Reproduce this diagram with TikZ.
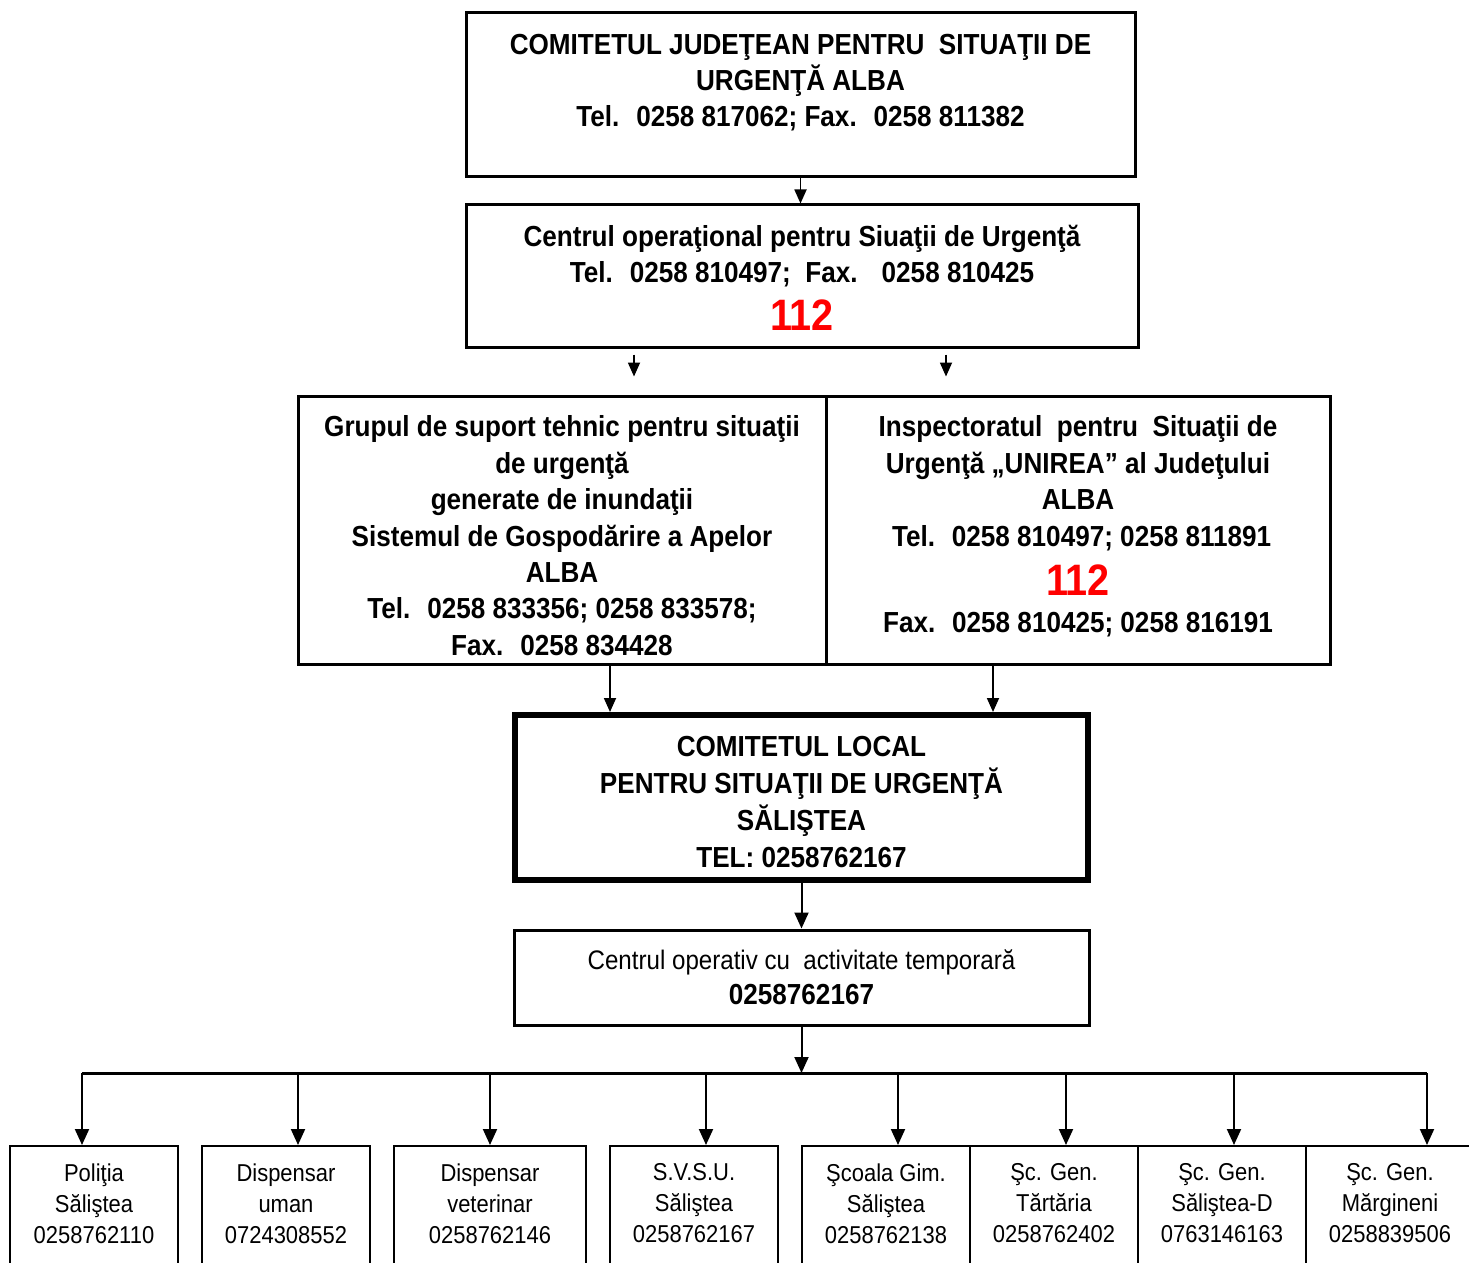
\documentclass[tikz,border=0pt]{standalone}
\usepackage{fontspec}
\setmainfont{Liberation Sans}[FakeStretch=0.9]
\usetikzlibrary{arrows.meta}

\tikzset{
  box/.style={draw, line width=1.5pt, inner sep=0pt},
  unit/.style={draw, line width=1pt, inner sep=0pt, minimum width=84pt, minimum height=77pt},
  txt/.style={anchor=north, align=center, inner sep=0pt, font=\bfseries\fontsize{14.5}{18.2}\selectfont},
  small/.style={anchor=north, align=center, inner sep=0pt, font=\fontsize{12.2}{15.5}\selectfont},
  arr/.style={line width=0.9pt, -{Triangle[length=7pt,width=6pt]}},
  barr/.style={line width=1pt, -{Triangle[length=8pt,width=7pt]}},
}
\newcommand{\urgnr}[1]{{\fontsize{22}{22}\selectfont\color{red}#1}}

\begin{document}
\begin{tikzpicture}[x=0.5pt, y=-0.5pt]
\useasboundingbox (0,0) rectangle (1469,1263);
\clip (0,0) rectangle (1469,1263);

% judet
\node[box, minimum width=334.5pt, minimum height=82pt, label={[txt, yshift=-11pt]90:{COMITETUL JUDEŢEAN PENTRU~ SITUAŢII DE\\URGENŢĂ ALBA\\Tel.~ 0258 817062; Fax.~ 0258 811382}}] (cjsu) at (800.5,95) {};
\node[box, minimum width=336pt, minimum height=71pt, label={[txt, yshift=-10.5pt]90:{Centrul operaţional pentru Siuaţii de Urgenţă\\Tel.~ 0258 810497;~ Fax.~~ 0258 810425\\[5.5pt]\urgnr{112}}}] (cosu) at (802,276) {};
\node[box, minimum width=264pt, minimum height=134pt, label={[txt, yshift=-10.5pt]90:{Grupul de suport tehnic pentru situaţii\\de urgenţă\\generate de inundaţii\\Sistemul de Gospodărire a Apelor\\ALBA\\Tel.~ 0258 833356; 0258 833578;\\Fax.~ 0258 834428}}] (gst) at (562,530) {};
\node[box, minimum width=252pt, minimum height=134pt, label={[txt, yshift=-10.5pt]90:{Inspectoratul~ pentru~ Situaţii de\\Urgenţă „UNIREA” al Judeţului\\ALBA\\~Tel.~ 0258 810497; 0258 811891\\[6.5pt]\urgnr{112}\\[0.5pt]Fax.~ 0258 810425; 0258 816191}}] (isu) at (1078,530) {};

% local
\node[box, line width=3pt, minimum width=286.5pt, minimum height=82.5pt, label={[txt, yshift=-12pt, font=\bfseries\fontsize{14.5}{18.5}\selectfont]90:{COMITETUL LOCAL\\PENTRU SITUAŢII DE URGENŢĂ\\SĂLIŞTEA\\TEL: 0258762167}}] (clsu) at (801.5,797.5) {};
\node[box, minimum width=287.5pt, minimum height=47.5pt, label={[txt, yshift=-10.5pt, font=\fontsize{13.4}{17.5}\selectfont]90:{Centrul operativ cu~ activitate temporară\\{\fontsize{14.5}{17.5}\selectfont\bfseries 0258762167}}}] (cop) at (801.5,977.5) {};

\path[arr] (cjsu.south) edge (cjsu.south |- cosu.north);
\path[arr] ([xshift=-84pt,yshift=-3pt]cosu.south) edge ([xshift=-84pt,yshift=-14pt]cosu.south);
\path[arr] ([xshift=72pt,yshift=-3pt]cosu.south) edge ([xshift=72pt,yshift=-14pt]cosu.south);
\path[arr] ([xshift=24pt]gst.south) edge ([xshift=24pt]gst.south |- clsu.north);
\path[arr] ([xshift=-42.5pt]isu.south) edge ([xshift=-42.5pt]isu.south |- clsu.north);
\path[barr] (clsu.south) edge (clsu.south |- cop.north);

% unitati
\node[unit, label={[small, yshift=-9pt]90:{Poliţia\\Săliştea\\0258762110}}] (pol) at (94,1223) {};
\node[unit, label={[small, yshift=-9pt]90:{Dispensar\\uman\\0724308552}}] (dum) at (286,1223) {};
\node[unit, minimum width=96pt, label={[small, yshift=-9pt]90:{Dispensar\\veterinar\\0258762146}}] (dvet) at (490,1223) {};
\node[unit, label={[small, yshift=-9pt]90:{S.V.S.U.\\Săliştea\\0258762167}}] (svsu) at (694,1223) {};
\node[unit, label={[small, yshift=-9pt]90:{Şcoala Gim.\\Săliştea\\0258762138}}] (scgim) at (886,1223) {};
\node[unit, label={[small, yshift=-9pt]90:{Şc. Gen.\\Tărtăria\\0258762402}}] (sctar) at (1054,1223) {};
\node[unit, label={[small, yshift=-9pt]90:{Şc. Gen.\\Săliştea-D\\0763146163}}] (scsal) at (1222,1223) {};
\node[unit, label={[small, yshift=-9pt]90:{Şc. Gen.\\Mărgineni\\0258839506}}] (scmar) at (1390,1223) {};

\coordinate (b1) at (82,1073);
\coordinate (b2) at (298,1073);
\coordinate (b3) at (490,1073);
\coordinate (b4) at (706,1073);
\coordinate (b5) at (898,1073);
\coordinate (b6) at (1066,1073);
\coordinate (b7) at (1234,1073);
\coordinate (b8) at (1427,1073);
\draw[line width=1.5pt] (b1) -- (b8);
\path[barr] (cop.south) edge (cop.south |- b1);
\path[barr] (b1) edge (b1 |- pol.north);
\path[barr] (b2) edge (b2 |- dum.north);
\path[barr] (b3) edge (b3 |- dvet.north);
\path[barr] (b4) edge (b4 |- svsu.north);
\path[barr] (b5) edge (b5 |- scgim.north);
\path[barr] (b6) edge (b6 |- sctar.north);
\path[barr] (b7) edge (b7 |- scsal.north);
\path[barr] (b8) edge (b8 |- scmar.north);
\end{tikzpicture}
\end{document}
